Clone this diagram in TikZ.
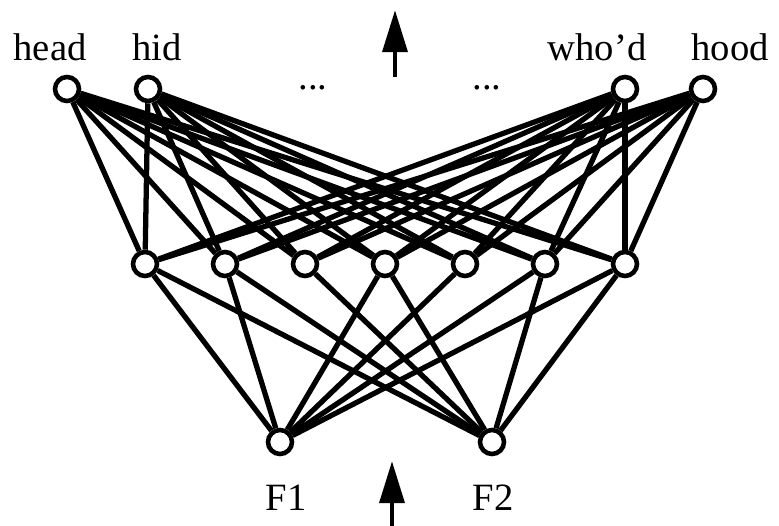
\documentclass[tikz,border=0pt]{standalone}
\usepackage{fontspec}
\setmainfont{Liberation Serif}
\usetikzlibrary{arrows.meta, backgrounds}
\tikzset{
  unit/.style={circle, draw=black, fill=white, line width=2.6pt,
    minimum size=0.48cm, inner sep=0pt},
  wire/.style={line width=3pt, black},
  thinwire/.style={line width=0.8pt, black},
  flowarrow/.style={-{Triangle[width=14pt, length=24pt]}, line width=2.8pt},
  word/.style={font=\fontsize{22}{26}\selectfont, inner sep=0pt},
}

\begin{document}
\begin{tikzpicture}[x=0.02cm, y=-0.02cm]
    \useasboundingbox (0,0) rectangle (779,526);
    % output layer
    \node[unit] (head) at (67,89) {};
    \node[unit] (hid) at (148,89) {};
    \node[unit] (whod) at (625,89) {};
    \node[unit] (hood) at (703,89) {};
    \node[word] (headlab) at (50,47) {head};
    \node[word] (hidlab) at (157,47) {hid};
    \node[word] (whodlab) at (597,47) {who'd};
    \node[word] (hoodlab) at (730,47) {hood};
    \node[word] (dotsL) at (313,88) {...};
    \node[word] (dotsR) at (487,88) {...};
    % hidden layer
    \foreach \i in {1,...,7}
      \node[unit] (h\i) at (65+80*\i,264) {};
    % input layer
    \node[unit] (F1) at (280,442) {};
    \node[unit] (F2) at (492,442) {};
    \node[word] (F1lab) at (286,498) {F1};
    \node[word] (F2lab) at (493,498) {F2};
    \begin{scope}[on background layer]
      \foreach \o in {head,hid,whod,hood}
        \foreach \i in {1,...,7}
          \draw[wire] (\o) -- (h\i);
      \foreach \i in {1,2,4,5,6,7}
        \draw[wire] (h\i) -- (F1);
      \foreach \i in {1,2,3,4,6,7}
        \draw[wire] (h\i) -- (F2);
      \draw[thinwire] (h5) -- (F1);
      \draw[thinwire] (h3) -- (F2);
    \end{scope}
    % flow arrows
    \coordinate (topfoot) at (395,77);
    \coordinate (toptip) at (395,10);
    \coordinate (botfoot) at (392,526);
    \coordinate (bottip) at (392,461);
    \draw[flowarrow] (topfoot) -- (toptip);
    \draw[flowarrow] (botfoot) -- (bottip);
  \end{tikzpicture}
\end{document}
